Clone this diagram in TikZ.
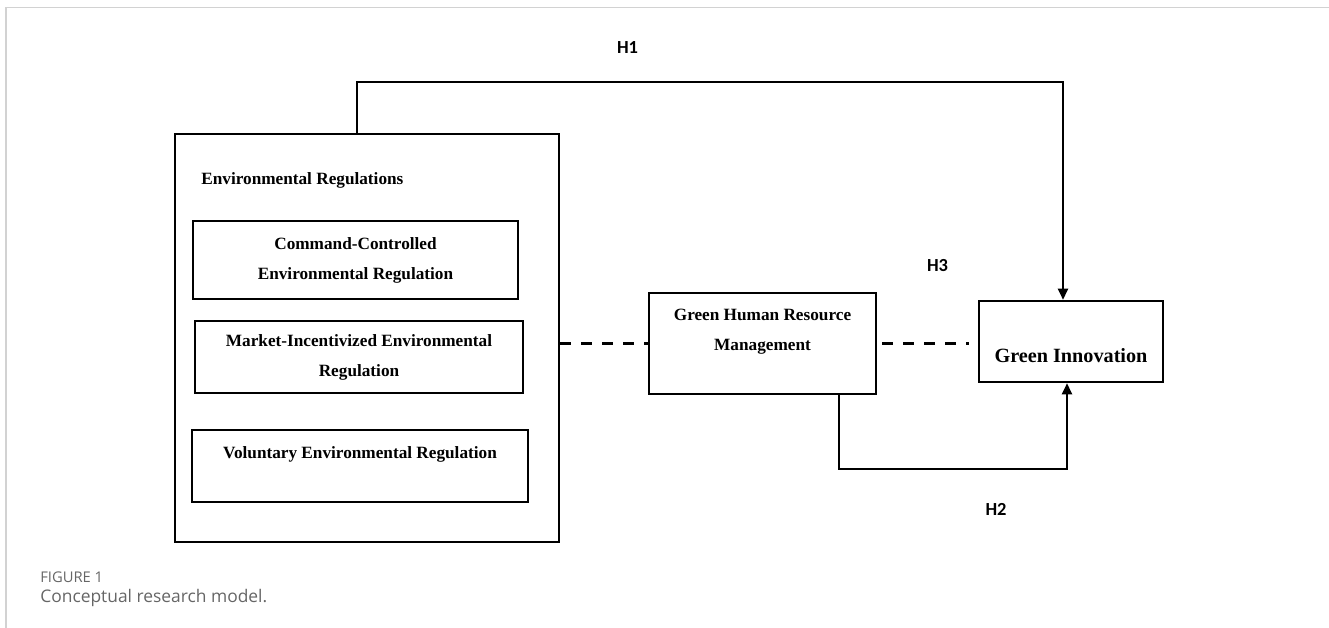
\documentclass[tikz,border=0pt]{standalone}
\usepackage{fontspec}
\setmainfont{Liberation Serif}
\newfontfamily\hypfont{Carlito}
\newfontfamily\capfont{Open Sans}
\usetikzlibrary{positioning,arrows.meta}
\definecolor{framegray}{HTML}{D2D2D2}
\definecolor{capgray}{HTML}{666666}
\tikzset{
mybox/.style={
  draw,
  line width=1.1pt,
  inner sep=0pt
  },
bigbox/.style={
  mybox,
  line width=1.45pt
  },
boxtext/.style={
  font=\bfseries\fontsize{9.8}{17.07}\selectfont,
  align=center,
  inner sep=0pt
  },
hyp/.style={
  font=\hypfont\bfseries\fontsize{10.5}{12}\selectfont,
  inner sep=0pt
  },
link/.style={
  line width=1.2pt
  },
dashlink/.style={
  link,
  dash pattern=on 0.22cm off 0.2cm
  }
}

\begin{document}
\begin{tikzpicture}[>={Triangle[length=0.22cm,width=0.2cm]}]
\useasboundingbox (0,0) rectangle (26.58,-12.56);

% frame of the figure
\draw[framegray,line width=0.85pt] (0.12,-12.56) -- (0.12,-0.15) -- (26.58,-0.15);

\node[bigbox,minimum width=7.68cm,minimum height=8.16cm]
at (7.34,-6.76) (er) {};

\node[boxtext,anchor=west] at (4.02,-3.60) (erhead) {Environmental Regulations};

\node[mybox,boxtext,minimum width=6.5cm,minimum height=1.56cm]
at (7.11,-5.20) (cc)
{Command-Controlled\\Environmental Regulation};

\node[mybox,boxtext,minimum width=6.56cm,minimum height=1.44cm]
at (7.18,-7.14) (mi)
{Market-Incentivized Environmental\\Regulation};

\node[mybox,minimum width=6.72cm,minimum height=1.44cm]
at (7.20,-9.32) (ver) {};
\node[boxtext,below=0.35cm of ver.north] (vertext) {Voluntary Environmental Regulation};

\node[bigbox,minimum width=4.54cm,minimum height=2.02cm]
at (15.25,-6.87) (ghrm) {};
\node[boxtext,below=0.34cm of ghrm.north] (ghrmtext) {Green Human Resource\\Management};

\node[bigbox,minimum width=3.68cm,minimum height=1.62cm]
at (21.42,-6.83) (gi) {};
\node[boxtext,font=\bfseries\fontsize{11.5}{14}\selectfont,above=0.40cm of gi.south] (gitext) {Green Innovation};

\node[hyp] at (12.55,-0.96) (h1) {H1};
\node[hyp] at (19.92,-10.18) (h2) {H2};
\node[hyp] at (18.75,-5.32) (h3) {H3};

\coordinate (h1corner) at (7.14,-1.64);
\coordinate (h2corner) at (21.34,-9.38);

\draw[link,->] (h1corner |- er.north) -- (h1corner) -| ([xshift=-0.16cm]gi.north);
\draw[link,->] ([xshift=1.53cm]ghrm.south) |- (h2corner) -- ([xshift=-0.08cm]gi.south);

\draw[dashlink] (er.east |- ghrm.west) -- (ghrm.west);
\draw[dashlink,shorten <=0.1cm,shorten >=0.18cm] (ghrm.east) -- (ghrm.east -| gi.west);

% caption
\node[font=\capfont\fontsize{8.4}{10}\selectfont,text=capgray,inner sep=0pt,anchor=west]
at (0.80,-11.54) (figlabel) {FIGURE 1};
\node[font=\capfont\fontsize{9.9}{12}\selectfont,text=capgray,inner sep=0pt,anchor=west]
at (0.80,-11.96) (figcap) {Conceptual research model.};
\end{tikzpicture}
\end{document}
